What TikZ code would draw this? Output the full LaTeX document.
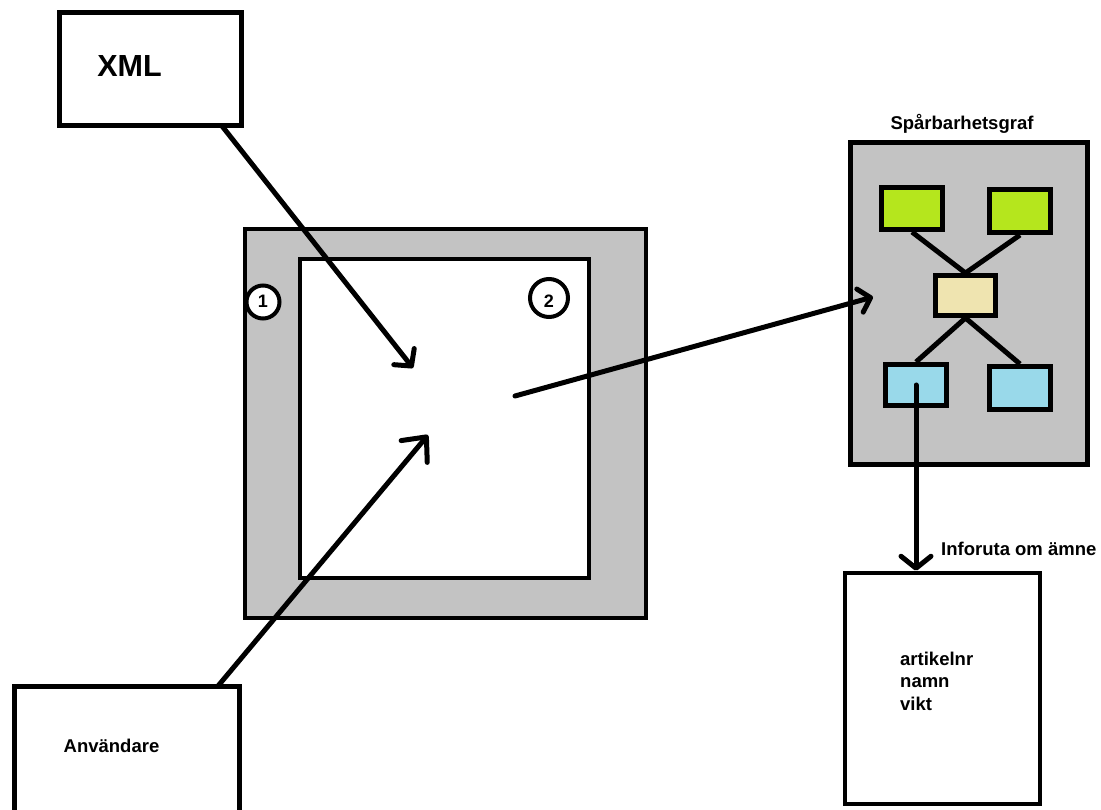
\documentclass[tikz,border=0pt]{standalone}
\usepackage{fontspec}
\setmainfont{Liberation Sans}
\usetikzlibrary{arrows.meta}
\definecolor{paintgray}{HTML}{C3C3C3}
\definecolor{paintgreen}{HTML}{B5E61D}
\definecolor{paintbeige}{HTML}{EFE4B0}
\definecolor{paintblue}{HTML}{99D9EA}
\tikzset{
  box/.style={draw=black, rectangle, inner sep=0pt, line width=#1},
  box/.default=5pt,
  small/.style={box=5pt, minimum width=61pt, minimum height=42pt},
  link/.style={line width=5pt},
  conn/.style={line width=5pt, line cap=round},
  lbl/.style={inner sep=0pt, font=\bfseries\fontsize{18.5}{22.5}\selectfont},
  num/.style={draw=black, circle, fill=white, line width=4pt, inner sep=0pt},
  numtext/.style={inner sep=0pt, anchor=base, font=\bfseries\fontsize{18}{18}\selectfont},
}
\begin{document}
\begin{tikzpicture}[x=1pt,y=-1pt]
\clip (0,0) rectangle (1101,810);
\fill[white] (0,0) rectangle (1101,810);
% main screen
\node[box=4pt, fill=paintgray, minimum width=401.3pt, minimum height=389pt] (screen) at (445.3,423.5) {};
\node[box=4pt, fill=white, minimum width=289pt, minimum height=319pt] (inner) at (444.2,418.5) {};
\node[num, minimum size=33pt] (n1) at (263,302) {};
\node[numtext] (n1t) at (263,307.5) {1};
\node[num, minimum size=38pt] (n2) at (549,298) {};
\node[numtext] (n2t) at (549,307.5) {2};
% XML
\node[box=5.5pt, fill=white, minimum width=182pt, minimum height=113pt] (xml) at (150.5,69) {};
\node[lbl, font=\bfseries\fontsize{30.5}{30.5}\selectfont, anchor=base] (xmlt) at (129.5,77) {XML};
% Anvandare
\node[box=5.5pt, fill=white, minimum width=225pt, minimum height=160pt] (user) at (127,766.5) {};
\node[lbl, anchor=base] (usert) at (111.5,752.5) {Användare};
% graph
\node[lbl, anchor=base] (gtitle) at (962,130) {Spårbarhetsgraf};
\node[box=5pt, fill=paintgray, minimum width=237pt, minimum height=322pt] (graph) at (969,303.5) {};
\node[small, fill=paintgreen, minimum height=42pt] (g1) at (912,208.5) {};
\node[small, fill=paintgreen, minimum height=43pt] (g2) at (1020,211) {};
\node[small, fill=paintbeige, minimum width=60pt, minimum height=40pt] (mid) at (965.5,295.5) {};
\node[small, fill=paintblue, minimum height=41pt] (b1) at (916,385) {};
\node[small, fill=paintblue, minimum height=43pt] (b2) at (1020,388) {};
\draw[link] (g1.south) -- (mid.north);
\draw[link] (g2.south) -- (mid.north);
\draw[link] (mid.south) -- (b1.north);
\draw[link] (mid.south) -- (b2.north);
% info box
\node[box=4.5pt, fill=white, minimum width=195pt, minimum height=231pt] (info) at (942.5,688.5) {};
\node[lbl, anchor=base west] (infot) at (941,555) {Inforuta om ämne};
\node[lbl, anchor=base west, align=left] (fields) at (900,710) {artikelnr\\namn\\vikt};
% arrow end points
\coordinate (xmlout) at (222,126);
\coordinate (xmlin) at (413,368);
\coordinate (userout) at (218,686);
\coordinate (userin) at (428,435);
\coordinate (scrout) at (515,396);
\coordinate (graphin) at (873,297);
% connectors
\draw[conn, -{Straight Barb[round, length=12pt, width=26pt]}] (xmlout) -- (xmlin);
\draw[conn, -{Straight Barb[round, length=19pt, width=34pt]}] (userout) -- (userin);
\draw[conn, -{Straight Barb[round, length=11pt, width=24pt]}] (scrout) -- (graphin);
\draw[conn, -{Straight Barb[round, length=12pt, width=30pt]}] (b1.center) -- (b1.center |- info.north);
\end{tikzpicture}
\end{document}
